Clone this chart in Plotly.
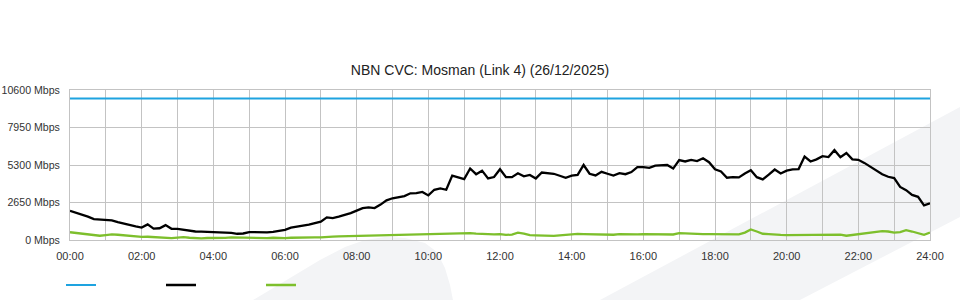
import plotly.graph_objects as go

# sample times (minutes after midnight, 10-minute samples)
minutes = list(range(0, 1441, 10))
hours = [m / 60 for m in minutes]

capacity_hours = [0, 24]
capacity_mbps = [10000, 10000]

traffic_in = [
    2060, 1930, 1800, 1650, 1480, 1450, 1440, 1390, 1260, 1150, 1060, 960,
    880, 1100, 800, 830, 1050, 790, 780, 720, 640, 600, 590, 580,
    540, 540, 530, 500, 440, 460, 560, 540, 530, 540, 570, 620,
    720, 870, 930, 980, 1080, 1200, 1300, 1600, 1550, 1650, 1750, 1900,
    2080, 2250, 2300, 2260, 2500, 2800, 2950, 3020, 3100, 3300, 3310, 3400,
    3150, 3550, 3650, 3550, 4550, 4420, 4300, 5050, 4650, 4900, 4350, 4450,
    5000, 4440, 4440, 4720, 4500, 4600, 4350, 4770, 4740, 4680, 4540, 4400,
    4550, 4600, 5300, 4680, 4560, 4820, 4680, 4550, 4720, 4650, 4800, 5150,
    5150, 5100, 5250, 5300, 5300, 5050, 5650, 5550, 5660, 5580, 5780, 5500,
    5000, 4850, 4400, 4450, 4420, 4700, 4930, 4440, 4280, 4620, 4980, 4700,
    4900, 4990, 5010, 5900, 5550, 5700, 5920, 5860, 6350, 5850, 6150, 5700,
    5670, 5450, 5200, 4950, 4650, 4470, 4380, 3750, 3520, 3190, 3050, 2450,
    2600,
]

traffic_out = [
    550, 500, 440, 350, 300, 300, 350, 400, 370, 330, 300, 250,
    220, 230, 200, 210, 160, 130, 170, 200, 160, 130, 120, 140,
    130, 120, 150, 180, 170, 150, 140, 150, 150, 130, 160, 140,
    130, 160, 180, 190, 170, 190, 190, 230, 240, 250, 260, 280,
    290, 300, 310, 300, 320, 330, 340, 350, 380, 390, 410, 430,
    440, 440, 440, 450, 440, 450, 450, 480, 450, 420, 380, 400,
    420, 360, 380, 520, 450, 350, 330, 300, 280, 290, 330, 380,
    420, 430, 420, 400, 390, 380, 360, 370, 420, 400, 380, 400,
    410, 400, 390, 420, 400, 390, 480, 450, 420, 440, 410, 420,
    410, 400, 430, 410, 400, 520, 740, 600, 440, 420, 370, 360,
    350, 350, 360, 380, 400, 400, 400, 390, 380, 380, 300, 360,
    420, 450, 510, 580, 630, 600, 520, 560, 690, 600, 470, 360,
    520,
]

y_ticks = [0, 2650, 5300, 7950, 10600]
y_tick_labels = [f"{v} Mbps" for v in y_ticks]
x_ticks = list(range(0, 25))
x_tick_labels = [f"{h:02d}:00" if h % 2 == 0 else "" for h in x_ticks]

BLUE = "#1ea3e0"
GREEN = "#7dbf2c"
GRID = "#c3c3c3"
WATERMARK = "#f3f4f6"

fig = go.Figure()
fig.add_trace(go.Scatter(x=capacity_hours, y=capacity_mbps, mode="lines",
                         line=dict(color=BLUE, width=2.2), name=""))
fig.add_trace(go.Scatter(x=hours, y=traffic_in, mode="lines",
                         line=dict(color="#000000", width=2.3), name=""))
fig.add_trace(go.Scatter(x=hours, y=traffic_out, mode="lines",
                         line=dict(color=GREEN, width=2.3), name=""))

# page geometry (pixels) used to place decorative background watermark
L, R, T, B, W, H = 70, 30, 90, 60, 960, 300
pw, ph = W - L - R, H - T - B


def px(x, y):
    return (x - L) / pw, (H - B - y) / ph


def path(points):
    pts = [px(x, y) for x, y in points]
    return "M" + " L".join(f"{a:.4f},{b:.4f}" for a, b in pts) + " Z"


band = [(600, 300), (960, 107), (960, 217), (800, 300)]
fin = [(253, 300), (290, 278), (320, 260), (345, 247), (365, 240), (385, 237),
       (405, 238), (425, 243), (437, 252), (445, 268), (450, 285), (453, 300)]

shapes = [dict(type="path", xref="paper", yref="paper", path=path(p),
               fillcolor=WATERMARK, line=dict(width=0), layer="below")
          for p in (band, fin)]

font = "Liberation Sans, Arial, sans-serif"
fig.update_layout(
    width=W, height=H,
    margin=dict(l=L, r=R, t=T, b=B, pad=0, autoexpand=False),
    paper_bgcolor="white", plot_bgcolor="rgba(0,0,0,0)",
    font=dict(family=font, size=11, color="#333333"),
    title=dict(text="NBN CVC: Mosman (Link 4) (26/12/2025)", x=0.5, xanchor="center",
               xref="container", yref="container", y=1 - 70 / H, yanchor="middle",
               font=dict(size=14, color="#222222", family=font)),
    shapes=shapes,
    showlegend=True,
    legend=dict(orientation="h", x=px(61, 0)[0], xanchor="left",
                y=px(0, 285)[1], yanchor="middle", bgcolor="rgba(0,0,0,0)",
                entrywidth=55, entrywidthmode="pixels", itemwidth=30),
    hovermode=False,
)
fig.update_xaxes(range=[0, 24], tickmode="array", tickvals=x_ticks, ticktext=x_tick_labels,
                 showgrid=True, gridcolor=GRID, gridwidth=1, zeroline=False,
                 showline=True, mirror=True, linecolor=GRID, linewidth=1, automargin=False,
                 ticks="", ticklabelstandoff=6, tickfont=dict(size=11, color="#333333"))
fig.update_yaxes(range=[0, 10600], tickmode="array", tickvals=y_ticks, ticktext=y_tick_labels,
                 showgrid=True, gridcolor=GRID, gridwidth=1, zeroline=False,
                 showline=True, mirror=True, linecolor=GRID, linewidth=1, automargin=False,
                 ticks="", ticklabelstandoff=7, tickfont=dict(size=10.6, color="#333333"))

fig.write_html("out.html")
